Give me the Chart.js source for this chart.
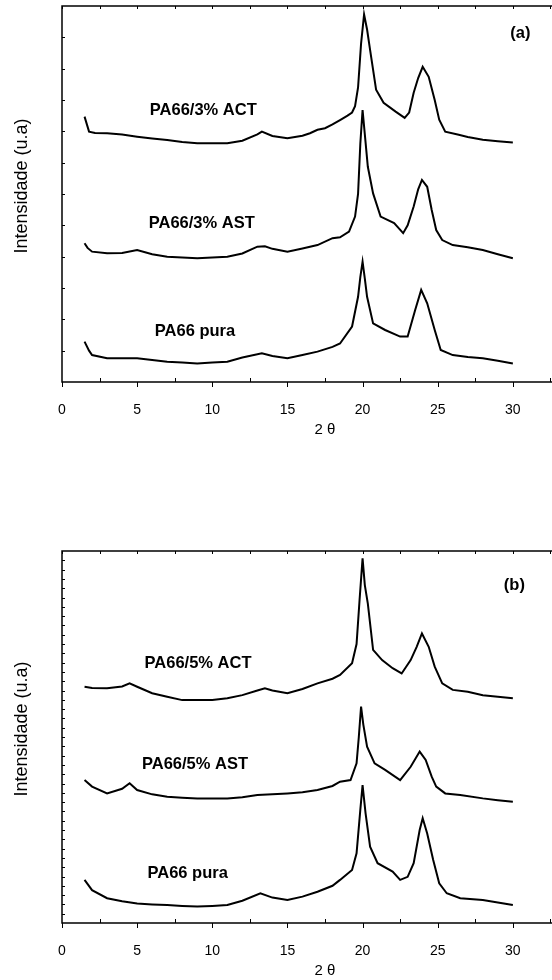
<!DOCTYPE html>
<html>
<head>
<meta charset="utf-8">
<script src="https://cdn.jsdelivr.net/npm/chart.js@4/dist/chart.umd.min.js"></script>
<style>
  html, body { margin: 0; padding: 0; background: #fff; overflow: hidden; width: 552px; height: 980px; }
  .panel { position: absolute; left: 0; }
  #boxA { top: 0; }
  #boxB { top: 545px; }
</style>
</head>
<body>
<div class="panel" id="boxA"><canvas id="chartA" width="600" height="439"></canvas></div>
<div class="panel" id="boxB"><canvas id="chartB" width="600" height="435"></canvas></div>
<script>
// ---- painel (a) ----
const xA_act = [1.5, 1.8, 2.2, 3, 4, 5, 6, 7, 8, 9, 10, 11, 12, 13, 13.3, 14, 15, 16, 16.5, 17, 17.5, 18, 18.5, 19, 19.3, 19.5, 19.7, 19.9, 20.1, 20.3, 20.5, 20.9, 21.4, 22.2, 22.8, 23.1, 23.4, 23.7, 24.0, 24.4, 24.8, 25.1, 25.5, 26.4, 27, 28, 29, 30];
const yA_act = [8.47, 7.99, 7.95, 7.94, 7.9, 7.83, 7.77, 7.72, 7.66, 7.62, 7.62, 7.62, 7.7, 7.9, 7.99, 7.85, 7.78, 7.86, 7.94, 8.05, 8.1, 8.22, 8.36, 8.5, 8.6, 8.8, 9.4, 10.8, 11.73, 11.25, 10.6, 9.33, 8.91, 8.63, 8.43, 8.6, 9.23, 9.7, 10.06, 9.74, 9.0, 8.37, 7.99, 7.89, 7.82, 7.73, 7.68, 7.64];

const xA_ast = [1.5, 1.7, 2, 3, 4, 5, 6, 7, 8, 9, 10, 11, 12, 13, 13.5, 14, 15, 16, 17, 18, 18.5, 19.1, 19.5, 19.7, 19.85, 20.0, 20.15, 20.35, 20.7, 21.2, 22.1, 22.7, 23.0, 23.4, 23.7, 23.95, 24.3, 24.6, 24.9, 25.3, 26, 27, 28, 29, 30];
const yA_ast = [4.43, 4.28, 4.16, 4.11, 4.12, 4.21, 4.08, 4.0, 3.97, 3.95, 3.97, 4.0, 4.1, 4.32, 4.33, 4.25, 4.16, 4.26, 4.37, 4.59, 4.62, 4.8, 5.28, 6.0, 7.6, 8.68, 7.9, 6.87, 6.02, 5.28, 5.07, 4.75, 5.0, 5.6, 6.15, 6.45, 6.23, 5.49, 4.85, 4.53, 4.37, 4.3, 4.21, 4.08, 3.95];

const xA_pura = [1.5, 1.8, 2, 3, 4, 5, 6, 7, 8, 9, 10, 11, 12, 13.3, 14, 15, 16, 17, 18, 18.5, 19.3, 19.7, 19.85, 20.0, 20.15, 20.3, 20.7, 21.5, 22.5, 23.0, 23.5, 23.9, 24.3, 24.8, 25.2, 26, 27, 28, 29, 30];
const yA_pura = [1.29, 1.0, 0.86, 0.76, 0.76, 0.76, 0.7, 0.65, 0.62, 0.59, 0.62, 0.65, 0.78, 0.92, 0.83, 0.76, 0.86, 0.97, 1.12, 1.23, 1.77, 2.72, 3.35, 3.84, 3.3, 2.72, 1.87, 1.66, 1.45, 1.45, 2.3, 2.94, 2.51, 1.66, 1.02, 0.86, 0.8, 0.76, 0.68, 0.59];

// ---- painel (b) ----
const xB_act = [1.5, 2, 3, 4, 4.5, 5, 6, 7, 8, 9, 10, 11, 12, 13, 13.5, 14, 15, 16, 17, 18, 18.5, 19.3, 19.6, 19.8, 20.0, 20.15, 20.35, 20.7, 21.3, 22, 22.6, 23.2, 23.6, 23.95, 24.4, 24.8, 25.3, 26, 27, 28, 29, 30];
const yB_act = [7.62, 7.58, 7.57, 7.63, 7.73, 7.62, 7.41, 7.3, 7.19, 7.19, 7.19, 7.25, 7.35, 7.5, 7.57, 7.5, 7.41, 7.55, 7.73, 7.88, 8.0, 8.38, 9.0, 10.42, 11.76, 10.9, 10.3, 8.81, 8.48, 8.22, 8.05, 8.48, 8.91, 9.34, 8.91, 8.27, 7.73, 7.52, 7.46, 7.35, 7.3, 7.25];

const xB_ast = [1.5, 2, 3, 4, 4.5, 5, 6, 7, 8, 9, 10, 11, 12, 13, 14, 15, 16, 17, 18, 18.5, 19.2, 19.6, 19.75, 19.9, 20.05, 20.3, 20.8, 21.5, 22.5, 23.2, 23.8, 24.2, 24.6, 24.9, 25.5, 26.5, 28, 29, 30];
const yB_ast = [4.61, 4.4, 4.18, 4.33, 4.51, 4.29, 4.15, 4.07, 4.04, 4.02, 4.02, 4.02, 4.06, 4.13, 4.15, 4.18, 4.22, 4.29, 4.42, 4.56, 4.61, 5.15, 6.0, 6.98, 6.4, 5.69, 5.15, 4.94, 4.61, 5.04, 5.53, 5.26, 4.72, 4.4, 4.18, 4.13, 4.02, 3.96, 3.91];

const xB_pura = [1.5, 2, 3, 4, 5, 6, 7, 8, 9, 10, 11, 12, 13.2, 14, 15, 16, 17, 18, 18.5, 19.3, 19.6, 19.85, 20.0, 20.2, 20.5, 21, 22, 22.5, 23.0, 23.4, 23.8, 24.0, 24.3, 24.7, 25.1, 25.6, 26.5, 28, 29, 30];
const yB_pura = [1.39, 1.06, 0.8, 0.7, 0.63, 0.6, 0.58, 0.55, 0.53, 0.55, 0.58, 0.72, 0.96, 0.82, 0.74, 0.85, 1.01, 1.2, 1.39, 1.71, 2.25, 3.65, 4.45, 3.54, 2.46, 1.93, 1.66, 1.39, 1.49, 1.93, 3.0, 3.38, 2.89, 2.03, 1.28, 0.96, 0.8, 0.74, 0.66, 0.58];

// rótulos das curvas (posição em coordenadas de dados)
const labelsA = [
  { text: "PA66/3% ACT", x: 9.4, y: 8.68 },
  { text: "PA66/3% AST", x: 9.3, y: 5.07 },
  { text: "PA66 pura", x: 8.85, y: 1.6 },
  { text: "(a)", x: 30.5, y: 11.13 }
];
const labelsB = [
  { text: "PA66/5% ACT", x: 9.05, y: 8.38 },
  { text: "PA66/5% AST", x: 8.85, y: 5.13 },
  { text: "PA66 pura", x: 8.36, y: 1.6 },
  { text: "(b)", x: 30.1, y: 10.9 }
];

const FONT = "'Liberation Sans', Arial, sans-serif";

function toPoints(xs, ys) {
  return xs.map((x, i) => ({ x: x, y: ys[i] }));
}

// moldura, marcas dos eixos e textos
const frameTicks = {
  id: 'frameTicks',
  afterDraw(chart, args, opts) {
    const ctx = chart.ctx;
    const a = chart.chartArea;
    const xs = chart.scales.x, ys = chart.scales.y;
    ctx.save();
    ctx.strokeStyle = '#000';
    ctx.lineWidth = 1.5;
    ctx.beginPath();
    ctx.moveTo(a.right, a.top);
    ctx.lineTo(a.left, a.top);
    ctx.lineTo(a.left, a.bottom);
    ctx.lineTo(a.right, a.bottom);
    ctx.stroke();

    ctx.lineWidth = 1;
    ctx.beginPath();
    for (let v = 0; v <= xs.max + 0.001; v += 2.5) {
      const px = Math.round(xs.getPixelForValue(v)) + 0.5;
      if (v % 5 === 0) {
        ctx.moveTo(px, a.bottom); ctx.lineTo(px, a.bottom + 5);
      } else {
        ctx.moveTo(px, a.bottom); ctx.lineTo(px, a.bottom - 4);
      }
      ctx.moveTo(px, a.top); ctx.lineTo(px, a.top + 3);
    }
    for (let k = 1; k < opts.yTicks; k++) {
      const py = Math.round(ys.getPixelForValue(ys.min + k * (ys.max - ys.min) / opts.yTicks)) + 0.5;
      ctx.moveTo(a.left, py); ctx.lineTo(a.left + 3, py);
    }
    ctx.stroke();

    ctx.fillStyle = '#000';
    ctx.font = "bold 16.5px " + FONT;
    ctx.textAlign = 'center';
    ctx.textBaseline = 'middle';
    opts.labels.forEach(l => {
      ctx.fillText(l.text, xs.getPixelForValue(l.x), ys.getPixelForValue(l.y));
    });

    // título do eixo y
    ctx.font = "18px " + FONT;
    ctx.translate(22, (a.top + a.bottom) / 2 - 8);
    ctx.rotate(-Math.PI / 2);
    ctx.fillText('Intensidade (u.a)', 0, 0);
    ctx.restore();
  }
};

function makeChart(id, series, labels, yTicks) {
  const ctx = document.getElementById(id).getContext('2d');
  return new Chart(ctx, {
    type: 'line',
    data: {
      datasets: series.map(s => ({
        data: toPoints(s[0], s[1]),
        borderColor: '#000',
        borderWidth: 2,
        pointRadius: 0,
        tension: 0,
        fill: false
      }))
    },
    options: {
      responsive: false,
      animation: false,
      devicePixelRatio: 1,
      layout: { padding: { top: 6, right: 6, left: 0, bottom: 0 } },
      plugins: {
        legend: { display: false },
        tooltip: { enabled: false },
        frameTicks: { labels: labels, yTicks: yTicks }
      },
      scales: {
        x: {
          type: 'linear',
          min: 0,
          max: 35,
          grid: { display: false },
          border: { display: false },
          ticks: {
            stepSize: 5,
            autoSkip: false,
            maxRotation: 0,
            padding: 12,
            color: '#000',
            font: { family: FONT, size: 14 },
            callback: v => (v <= 30 ? v : '')
          },
          title: {
            display: true,
            text: '2 θ',
            color: '#000',
            font: { family: FONT, size: 15 },
            padding: { top: 0, bottom: 0 }
          },
          afterFit: s => { s.height = 57; }
        },
        y: {
          min: 0,
          max: 12,
          grid: { display: false },
          border: { display: false },
          ticks: { display: false },
          title: { display: false },
          afterFit: s => { s.width = 62; }
        }
      }
    },
    plugins: [frameTicks]
  });
}

makeChart('chartA', [[xA_act, yA_act], [xA_ast, yA_ast], [xA_pura, yA_pura]], labelsA, 12);
makeChart('chartB', [[xB_act, yB_act], [xB_ast, yB_ast], [xB_pura, yB_pura]], labelsB, 40);
</script>
</body>
</html>
